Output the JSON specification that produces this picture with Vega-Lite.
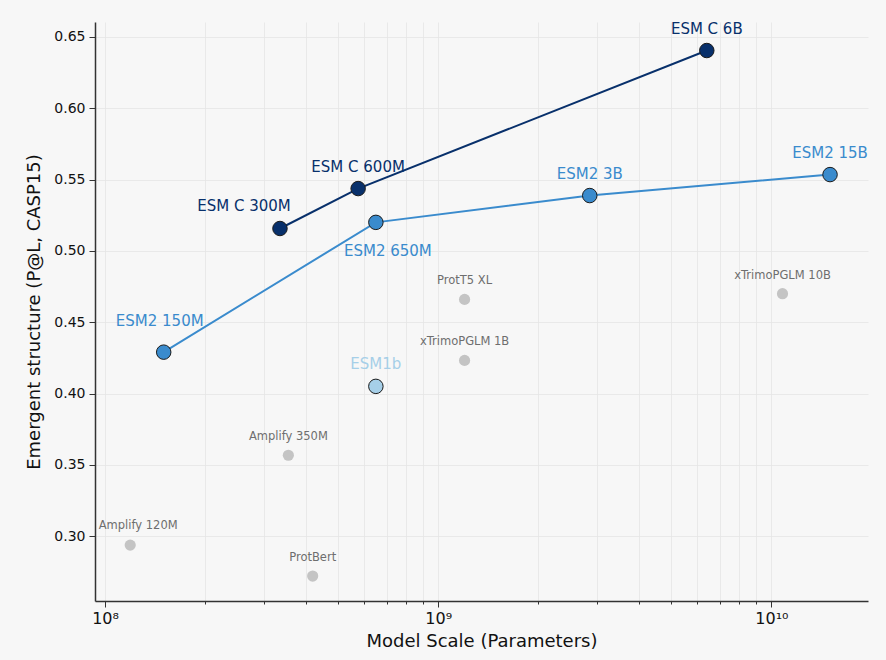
{
  "$schema": "https://vega.github.io/schema/vega-lite/v6.json",
  "autosize": {"type": "none"},
  "width": 773,
  "height": 579,
  "padding": {"left": 95, "top": 22, "right": 18, "bottom": 59},
  "background": "#f7f7f7",
  "config": {
    "font": "DejaVu Sans",
    "view": {"stroke": null},
    "axis": {"domainColor": "#333333", "domainWidth": 1.5, "tickColor": "#333333", "labelColor": "#111111", "titleColor": "#111111", "labelFont": "DejaVu Sans", "titleFont": "DejaVu Sans", "titleFontWeight": "normal", "gridColor": "#e4e4e4", "gridWidth": 0.8}
  },
  "data": {
    "values": [
      {"name": "ESM2 150M", "params": 1.5e8, "score": 0.429, "family": "ESM2"},
      {"name": "ESM2 650M", "params": 6.5e8, "score": 0.520, "family": "ESM2"},
      {"name": "ESM2 3B", "params": 2.85e9, "score": 0.5388, "family": "ESM2"},
      {"name": "ESM2 15B", "params": 1.5e10, "score": 0.5535, "family": "ESM2"},
      {"name": "ESM C 300M", "params": 3.35e8, "score": 0.5157, "family": "ESM C"},
      {"name": "ESM C 600M", "params": 5.75e8, "score": 0.5437, "family": "ESM C"},
      {"name": "ESM C 6B", "params": 6.4e9, "score": 0.6405, "family": "ESM C"},
      {"name": "ESM1b", "params": 6.5e8, "score": 0.405, "family": "ESM1b"},
      {"name": "ProtT5 XL", "params": 1.2e9, "score": 0.466, "family": "Other"},
      {"name": "xTrimoPGLM 1B", "params": 1.2e9, "score": 0.4232, "family": "Other"},
      {"name": "xTrimoPGLM 10B", "params": 1.08e10, "score": 0.470, "family": "Other"},
      {"name": "Amplify 350M", "params": 3.55e8, "score": 0.3567, "family": "Other"},
      {"name": "Amplify 120M", "params": 1.19e8, "score": 0.2937, "family": "Other"},
      {"name": "ProtBert", "params": 4.2e8, "score": 0.272, "family": "Other"}
    ]
  },
  "encoding": {
    "x": {
      "field": "params", "type": "quantitative",
      "scale": {"type": "log", "domain": [93300000, 19500000000], "nice": false},
      "axis": {
        "title": "Model Scale (Parameters)",
        "titleFontSize": 18,
        "titlePadding": 6,
        "labelFontSize": 16,
        "labelPadding": 3,
        "values": [100000000, 200000000, 300000000, 400000000, 500000000, 600000000, 700000000, 800000000, 900000000, 1000000000, 2000000000, 3000000000, 4000000000, 5000000000, 6000000000, 7000000000, 8000000000, 9000000000, 10000000000],
        "labelExpr": "datum.value == 100000000 ? '10⁸' : datum.value == 1000000000 ? '10⁹' : datum.value == 10000000000 ? '10¹⁰' : ''",
        "tickSize": {"condition": {"test": "datum.value == 100000000 || datum.value == 1000000000 || datum.value == 10000000000", "value": 6}, "value": 3},
        "labelOverlap": false,
        "grid": true
      }
    },
    "y": {
      "field": "score", "type": "quantitative",
      "scale": {"domain": [0.2545, 0.6605], "nice": false, "zero": false},
      "axis": {
        "title": "Emergent structure (P@L, CASP15)",
        "titleFontSize": 18,
        "titlePadding": 10,
        "labelFontSize": 14,
        "labelPadding": 4,
        "tickSize": 6,
        "values": [0.30, 0.35, 0.40, 0.45, 0.50, 0.55, 0.60, 0.65],
        "format": ".2f",
        "grid": true
      }
    },
    "color": {
      "field": "family", "type": "nominal", "legend": null,
      "scale": {"domain": ["ESM C", "ESM2", "ESM1b", "Other"], "range": ["#08306b", "#3a8bcd", "#a6cfe8", "#c4c4c4"]}
    }
  },
  "layer": [
    {
      "transform": [{"filter": "datum.family == 'ESM2' || datum.family == 'ESM C'"}],
      "mark": {"type": "line", "strokeWidth": 2},
      "encoding": {"detail": {"field": "family"}, "order": {"field": "params"}}
    },
    {
      "transform": [{"filter": "datum.family == 'Other'"}],
      "mark": {"type": "circle", "size": 125, "opacity": 1}
    },
    {
      "transform": [{"filter": "datum.family != 'Other'"}],
      "mark": {"type": "circle", "size": 210, "opacity": 1, "stroke": "#1a1a1a", "strokeWidth": 1}
    },
    {
      "transform": [{"filter": "datum.family == 'Other' && datum.name != 'Amplify 120M'"}],
      "mark": {"type": "text", "fontSize": 11.5, "dy": -18, "baseline": "middle"},
      "encoding": {"text": {"field": "name"}, "color": {"value": "#6e6e6e"}}
    },
    {
      "transform": [{"filter": "datum.name == 'Amplify 120M'"}],
      "mark": {"type": "text", "fontSize": 11.5, "dy": -19, "dx": 8, "baseline": "middle"},
      "encoding": {"text": {"field": "name"}, "color": {"value": "#6e6e6e"}}
    },
    {
      "transform": [{"filter": {"field": "name", "oneOf": ["ESM C 600M", "ESM2 3B", "ESM2 15B", "ESM C 6B", "ESM1b"]}}],
      "mark": {"type": "text", "fontSize": 15, "dy": -22, "baseline": "middle"},
      "encoding": {"text": {"field": "name"}}
    },
    {
      "transform": [{"filter": "datum.name == 'ESM2 150M'"}],
      "mark": {"type": "text", "fontSize": 15, "dy": -31, "dx": -4, "baseline": "middle"},
      "encoding": {"text": {"field": "name"}}
    },
    {
      "transform": [{"filter": "datum.name == 'ESM2 650M'"}],
      "mark": {"type": "text", "fontSize": 15, "dy": 29, "dx": 12, "baseline": "middle"},
      "encoding": {"text": {"field": "name"}}
    },
    {
      "transform": [{"filter": "datum.name == 'ESM C 300M'"}],
      "mark": {"type": "text", "fontSize": 15, "dy": -23, "dx": -36, "baseline": "middle"},
      "encoding": {"text": {"field": "name"}}
    }
  ]
}
